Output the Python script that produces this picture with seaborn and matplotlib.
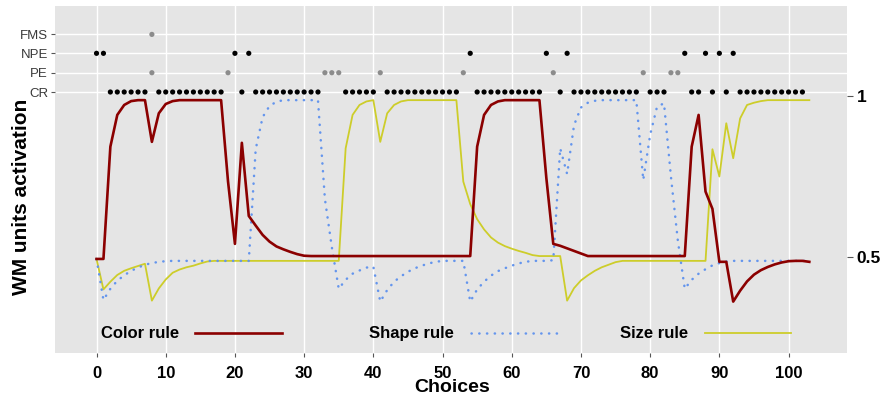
import matplotlib
matplotlib.use("Agg")
import matplotlib.pyplot as plt
import numpy as np
import pandas as pd
import seaborn as sns

# ---- data -------------------------------------------------------------
choices = list(range(0, 104))

color_rule = [
    0.493, 0.493, 0.843, 0.942, 0.973, 0.985, 0.988, 0.988, 0.858, 0.947,
    0.976, 0.985, 0.988, 0.988, 0.988, 0.988, 0.988, 0.988, 0.988, 0.735,
    0.540, 0.855, 0.627, 0.597, 0.568, 0.547, 0.532, 0.523, 0.515, 0.508,
    0.503, 0.502, 0.502, 0.502, 0.502, 0.502, 0.502, 0.502, 0.502, 0.502,
    0.502, 0.502, 0.502, 0.502, 0.502, 0.502, 0.502, 0.502, 0.502, 0.502,
    0.502, 0.502, 0.502, 0.502, 0.502, 0.843, 0.942, 0.973, 0.984, 0.988,
    0.988, 0.988, 0.988, 0.988, 0.988, 0.745, 0.540, 0.534, 0.526, 0.518,
    0.510, 0.502, 0.502, 0.502, 0.502, 0.502, 0.502, 0.502, 0.502, 0.502,
    0.502, 0.502, 0.502, 0.502, 0.502, 0.502, 0.843, 0.942, 0.703, 0.649,
    0.484, 0.484, 0.360, 0.394, 0.423, 0.444, 0.458, 0.468, 0.476, 0.482,
    0.486, 0.487, 0.487, 0.484,
]

shape_rule = [
    0.493, 0.365, 0.400, 0.425, 0.442, 0.456, 0.466, 0.475, 0.480, 0.484,
    0.486, 0.487, 0.487, 0.487, 0.487, 0.487, 0.487, 0.487, 0.487, 0.487,
    0.487, 0.487, 0.487, 0.835, 0.935, 0.970, 0.983, 0.988, 0.988, 0.988,
    0.988, 0.988, 0.988, 0.680, 0.530, 0.400, 0.428, 0.447, 0.457, 0.466,
    0.469, 0.360, 0.396, 0.422, 0.439, 0.453, 0.464, 0.472, 0.479, 0.484,
    0.487, 0.487, 0.487, 0.487, 0.360, 0.398, 0.422, 0.441, 0.455, 0.464,
    0.472, 0.479, 0.484, 0.487, 0.487, 0.487, 0.489, 0.838, 0.758, 0.910,
    0.965, 0.980, 0.986, 0.988, 0.988, 0.988, 0.988, 0.988, 0.988, 0.739,
    0.880, 0.968, 0.978, 0.750, 0.550, 0.400, 0.428, 0.447, 0.461, 0.473,
    0.480, 0.485, 0.487, 0.487, 0.487, 0.487, 0.487, 0.487, 0.487, 0.487,
    0.487, 0.487, 0.487, 0.487,
]

size_rule = [
    0.493, 0.398, 0.422, 0.443, 0.456, 0.464, 0.471, 0.478, 0.363, 0.401,
    0.429, 0.450, 0.460, 0.467, 0.472, 0.479, 0.485, 0.487, 0.487, 0.487,
    0.487, 0.487, 0.487, 0.487, 0.487, 0.487, 0.487, 0.487, 0.487, 0.487,
    0.487, 0.487, 0.487, 0.487, 0.487, 0.487, 0.838, 0.942, 0.973, 0.984,
    0.988, 0.858, 0.947, 0.973, 0.984, 0.988, 0.988, 0.988, 0.988, 0.988,
    0.988, 0.988, 0.988, 0.734, 0.664, 0.617, 0.585, 0.560, 0.544, 0.533,
    0.525, 0.518, 0.512, 0.505, 0.502, 0.502, 0.502, 0.502, 0.363, 0.402,
    0.426, 0.442, 0.456, 0.467, 0.475, 0.483, 0.487, 0.487, 0.487, 0.487,
    0.487, 0.487, 0.487, 0.487, 0.487, 0.487, 0.487, 0.487, 0.487, 0.835,
    0.750, 0.916, 0.807, 0.931, 0.973, 0.980, 0.985, 0.988, 0.988, 0.988,
    0.988, 0.988, 0.988, 0.988,
]

# trial outcomes (choice indices)
cr_choices = (list(range(2, 8)) + list(range(9, 19)) + [21] + list(range(23, 33))
              + list(range(36, 41)) + list(range(42, 53)) + list(range(55, 65))
              + [67] + list(range(69, 79)) + [80, 81, 82, 86, 87, 89, 91]
              + list(range(93, 103)))
pe_choices = [8, 19, 33, 34, 35, 41, 53, 66, 79, 83, 84]
npe_choices = [0, 1, 20, 22, 54, 65, 68, 85, 88, 90, 92]
fms_choices = [8]

event_names = ["CR", "PE", "NPE", "FMS"]
x_ticks = list(range(0, 101, 10))
right_ticks = [0.5, 1]
right_tick_labels = ["0.5", "1"]

# ---- style ------------------------------------------------------------
plt.rcParams["font.family"] = ["Liberation Sans", "DejaVu Sans"]
panel_bg = "#E5E5E5"
red = "#8B0000"
blue = "#6495ED"
yellow = "#CDCD2A"
event_level = {"CR": 1.0134, "PE": 1.0735, "NPE": 1.134, "FMS": 1.193}

fig = plt.figure(figsize=(8.91, 4.01), dpi=100)
ax = fig.add_axes([55 / 891, 48 / 401, 791.7 / 891, 347 / 401])
ax.set_facecolor(panel_bg)
for s in ax.spines.values():
    s.set_visible(False)

ax.set_xlim(-6.0, 108.4)
ax.set_ylim(0.1998, 1.2815)

# grid
ax.set_axisbelow(True)
ax.set_xticks(x_ticks)
ax.set_yticks([event_level[n] for n in event_names])
ax.grid(True, color="white", linewidth=1.0)

# activation curves
df = pd.DataFrame({"choice": choices, "Color rule": color_rule,
                   "Shape rule": shape_rule, "Size rule": size_rule})

sns.lineplot(data=df, x="choice", y="Size rule", ax=ax, color=yellow,
             linewidth=1.3, label="Size rule")
sns.lineplot(data=df, x="choice", y="Shape rule", ax=ax, color=blue,
             linewidth=1.8, label="Shape rule")
shape_line = ax.lines[-1]
shape_line.set_dashes((0.1, 3.0))
shape_line.set_dash_capstyle("round")
sns.lineplot(data=df, x="choice", y="Color rule", ax=ax, color=red,
             linewidth=1.9, label="Color rule")

# outcome markers
dot_specs = [("CR", cr_choices, "black"), ("PE", pe_choices, "#8C8C8C"),
             ("NPE", npe_choices, "black"), ("FMS", fms_choices, "#8C8C8C")]
for name, xs, col in dot_specs:
    sns.scatterplot(x=xs, y=[event_level[name]] * len(xs), ax=ax, color=col,
                    s=14, edgecolor="none", linewidth=0, legend=False)

# axes text
ax.set_xlabel("")
ax.set_ylabel("")
ax.set_xticklabels([str(t) for t in x_ticks], fontsize=12, fontweight="bold",
                   color="black")
ax.set_yticklabels(event_names, fontsize=9.5, color="#3A3A3A")
ax.tick_params(axis="x", length=3, width=0.8, color="#555555", pad=6)
ax.tick_params(axis="y", length=3, width=0.8, color="#555555", pad=2)

sec = ax.secondary_yaxis("right")
sec.set_yticks(right_ticks)
sec.set_yticklabels(right_tick_labels, fontsize=12.5, fontweight="bold")
sec.tick_params(length=4, width=0.8, color="#555555", pad=3)
for s in sec.spines.values():
    s.set_visible(False)

fig.text(452 / 891, 1 - 388 / 401, "Choices", ha="center", va="center",
         fontsize=14, fontweight="bold")
fig.text(22 / 891, 1 - 197 / 401, "WM units activation", rotation=90,
         ha="center", va="center", fontsize=15, fontweight="bold")

# legend: one key per rule, label followed by its line
handles, labels = ax.get_legend_handles_labels()
legend_x = {"Color rule": 0.0577, "Shape rule": 0.3966, "Size rule": 0.7137}
legends = []
for name, lx in legend_x.items():
    h = handles[labels.index(name)]
    lg = ax.legend([h], [name], loc="center left",
                   bbox_to_anchor=(lx, 0.0548), frameon=False,
                   markerfirst=False, handlelength=5.2, handletextpad=1.0,
                   borderpad=0, borderaxespad=0,
                   prop={"weight": "bold", "size": 12})
    legends.append(lg)
for lg in legends[:-1]:
    ax.add_artist(lg)

fig.savefig("out.png", dpi=100)
